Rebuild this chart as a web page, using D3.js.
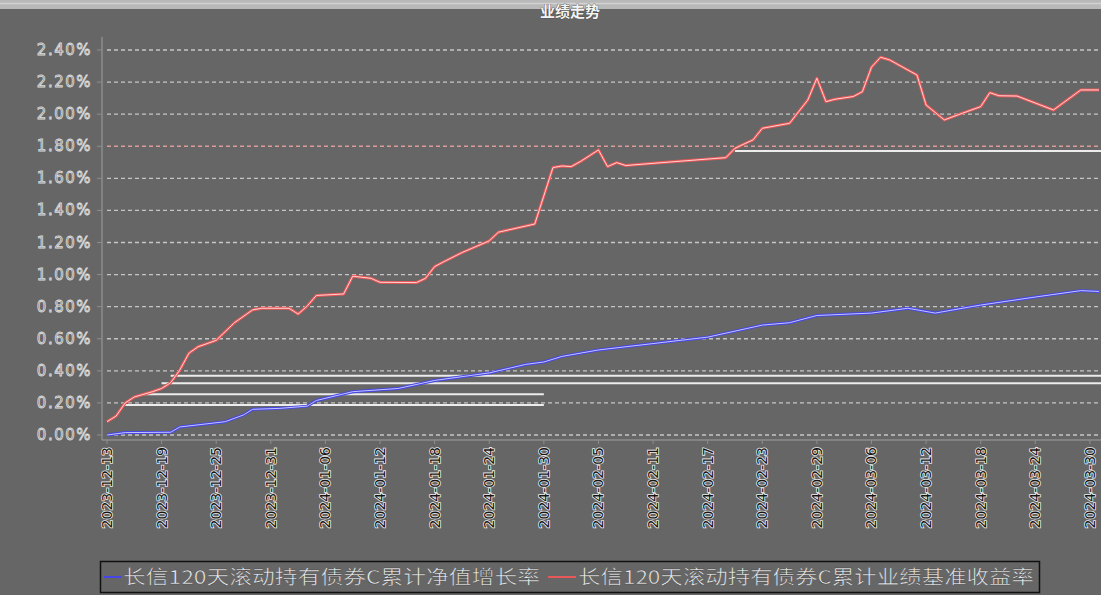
<!DOCTYPE html>
<html>
<head>
<meta charset="utf-8">
<script src="https://cdn.jsdelivr.net/npm/d3@7"></script>
<style>
  body { margin: 0; background: #666; }
  svg { display: block; }
</style>
</head>
<body>
<svg id="chart" width="1101" height="595"></svg>
<script>
const TITLE = '业绩走势';
const SERIES_NAMES = [
  '长信120天滚动持有债券C累计净值增长率',
  '长信120天滚动持有债券C累计业绩基准收益率',
];

// 累计净值增长率 (%)
const NAV_DATES = [
  '2023-12-13', '2023-12-15', '2023-12-20', '2023-12-21', '2023-12-26', '2023-12-28',
  '2023-12-29', '2024-01-01', '2024-01-04', '2024-01-05', '2024-01-09', '2024-01-14',
  '2024-01-18', '2024-01-24', '2024-01-28', '2024-01-30', '2024-02-01', '2024-02-05',
  '2024-02-11', '2024-02-17', '2024-02-23', '2024-02-26', '2024-02-29', '2024-03-06',
  '2024-03-10', '2024-03-13', '2024-03-18', '2024-03-24', '2024-03-29', '2024-03-31',
];
const NAV_VALUES = [
  0.00, 0.015, 0.017, 0.05, 0.083, 0.125,
  0.16, 0.166, 0.18, 0.215, 0.27, 0.29,
  0.34, 0.387, 0.44, 0.455, 0.49, 0.53,
  0.57, 0.61, 0.685, 0.70, 0.745, 0.76,
  0.79, 0.76, 0.81, 0.86, 0.90, 0.895,
];

// 累计业绩基准收益率 (%)
const BENCH_DATES = [
  '2023-12-13', '2023-12-14', '2023-12-15', '2023-12-16', '2023-12-18', '2023-12-19',
  '2023-12-20', '2023-12-21', '2023-12-22', '2023-12-23', '2023-12-25', '2023-12-27',
  '2023-12-29', '2023-12-30', '2024-01-02', '2024-01-03', '2024-01-04', '2024-01-05',
  '2024-01-08', '2024-01-09', '2024-01-10', '2024-01-11', '2024-01-12', '2024-01-16',
  '2024-01-17', '2024-01-18', '2024-01-19', '2024-01-21', '2024-01-24', '2024-01-25',
  '2024-01-29', '2024-01-31', '2024-02-01', '2024-02-02', '2024-02-03', '2024-02-05',
  '2024-02-06', '2024-02-07', '2024-02-08', '2024-02-12', '2024-02-19', '2024-02-20',
  '2024-02-21', '2024-02-22', '2024-02-23', '2024-02-26', '2024-02-27', '2024-02-28',
  '2024-02-29', '2024-03-01', '2024-03-02', '2024-03-04', '2024-03-05', '2024-03-06',
  '2024-03-07', '2024-03-08', '2024-03-11', '2024-03-12', '2024-03-14', '2024-03-16',
  '2024-03-18', '2024-03-19', '2024-03-20', '2024-03-22', '2024-03-26', '2024-03-29',
  '2024-03-31',
];
const BENCH_VALUES = [
  0.083, 0.118, 0.20, 0.237, 0.27, 0.29,
  0.326, 0.405, 0.51, 0.55, 0.59, 0.70,
  0.78, 0.79, 0.79, 0.754, 0.804, 0.87,
  0.879, 0.99, 0.983, 0.977, 0.952, 0.95,
  0.977, 1.05, 1.08, 1.137, 1.21, 1.264,
  1.315, 1.667, 1.677, 1.673, 1.704, 1.777,
  1.673, 1.698, 1.68, 1.698, 1.729, 1.787,
  1.814, 1.84, 1.912, 1.943, 2.016, 2.088,
  2.224, 2.078, 2.093, 2.11, 2.14, 2.293,
  2.355, 2.338, 2.244, 2.057, 1.964, 2.006,
  2.047, 2.134, 2.115, 2.113, 2.026, 2.151,
  2.151,
];

// leftover horizontal strokes seen in the picture (value %, from, to)
const GHOST_VALUES = [0.37, 0.322, 0.254, 0.187, 1.771];
const GHOST_FROM = ['2023-12-20', '2023-12-19', '2023-12-17', '2023-12-15', '2024-02-20'];
const GHOST_TO = ['2024-04-02', '2024-04-02', '2024-01-30', '2024-01-30', '2024-04-02'];

const Y_TICKS = [0, 0.2, 0.4, 0.6, 0.8, 1.0, 1.2, 1.4, 1.6, 1.8, 2.0, 2.2, 2.4];
const X_TICKS = [
  '2023-12-13', '2023-12-19', '2023-12-25', '2023-12-31', '2024-01-06', '2024-01-12',
  '2024-01-18', '2024-01-24', '2024-01-30', '2024-02-05', '2024-02-11', '2024-02-17',
  '2024-02-23', '2024-02-29', '2024-03-06', '2024-03-12', '2024-03-18', '2024-03-24',
  '2024-03-30',
];

const BLUE = '#4646e6';
const RED = '#e85858';
const BG = '#666666';
const CN = '"Noto Sans CJK SC", "Noto Sans", sans-serif';

const W = 1101;
const H = 595;
const parse = d3.timeParse('%Y-%m-%d');

const svg = d3.select('#chart');
svg.append('rect').attr('width', W).attr('height', H).attr('fill', BG);

// light strip at the very top
svg.append('rect').attr('x', 0).attr('y', 0).attr('width', W).attr('height', 9).attr('fill', '#b9b9b9');
svg.append('line').attr('x1', 0).attr('x2', W).attr('y1', 3.5).attr('y2', 3.5).attr('stroke', '#d2d2d2').attr('stroke-width', 1.5);

svg.append('text')
  .attr('x', 570)
  .attr('y', 17)
  .attr('text-anchor', 'middle')
  .attr('font-family', CN)
  .attr('font-size', 15)
  .attr('font-weight', 700)
  .attr('fill', '#f4f4f4')
  .attr('stroke', '#333')
  .attr('stroke-width', 0.6)
  .attr('paint-order', 'stroke')
  .text(TITLE);

const x = d3.scaleTime()
  .domain([parse('2023-12-13'), parse('2024-03-31')])
  .range([107, 1099]);
const y = d3.scaleLinear().domain([0, 2.4]).range([435, 50]);

const plotLeft = 102;
const plotBottom = 440;

// grid
svg.append('g')
  .selectAll('line')
  .data(Y_TICKS)
  .join('line')
  .attr('x1', 107)
  .attr('x2', W)
  .attr('y1', d => y(d))
  .attr('y2', d => y(d))
  .attr('stroke', d => (Math.abs(d - 1.8) < 1e-6 ? '#dc9a9a' : '#c6c6c6'))
  .attr('stroke-width', 1.3)
  .attr('stroke-dasharray', '4,3');

// axes
svg.append('line')
  .attr('x1', plotLeft).attr('x2', plotLeft)
  .attr('y1', 37).attr('y2', plotBottom)
  .attr('stroke', '#8e8e8e').attr('stroke-width', 1.5);
svg.append('line')
  .attr('x1', plotLeft).attr('x2', W)
  .attr('y1', plotBottom).attr('y2', plotBottom)
  .attr('stroke', '#8e8e8e').attr('stroke-width', 1.5);

const yAxis = svg.append('g');
yAxis.selectAll('line')
  .data(Y_TICKS)
  .join('line')
  .attr('x1', plotLeft - 5).attr('x2', plotLeft)
  .attr('y1', d => y(d)).attr('y2', d => y(d))
  .attr('stroke', '#8e8e8e');
yAxis.selectAll('text')
  .data(Y_TICKS)
  .join('text')
  .attr('x', 92)
  .attr('y', d => y(d) + 5)
  .attr('text-anchor', 'end')
  .attr('font-family', 'DejaVu Sans, sans-serif')
  .attr('font-size', 15)
  .attr('letter-spacing', 1.5)
  .attr('fill', '#707070')
  .attr('stroke', '#dedede')
  .attr('stroke-width', 0.8)
  .text(d => `${d.toFixed(2)}%`);

const xTicks = X_TICKS.map(parse);
const xAxis = svg.append('g');
xAxis.selectAll('line')
  .data(xTicks)
  .join('line')
  .attr('x1', d => x(d)).attr('x2', d => x(d))
  .attr('y1', plotBottom).attr('y2', plotBottom + 4)
  .attr('stroke', '#8e8e8e');
xAxis.selectAll('text')
  .data(X_TICKS)
  .join('text')
  .attr('transform', d => `translate(${x(parse(d)) + 5},447) rotate(-90)`)
  .attr('text-anchor', 'end')
  .attr('font-family', 'DejaVu Sans, sans-serif')
  .attr('font-size', 14)
  .attr('fill', '#151515')
  .attr('stroke', '#eeeeee')
  .attr('stroke-width', 1.6)
  .attr('paint-order', 'stroke')
  .text(d => d);

// stray white strokes
svg.append('g')
  .selectAll('line')
  .data(GHOST_VALUES)
  .join('line')
  .attr('x1', (d, i) => x(parse(GHOST_FROM[i])))
  .attr('x2', (d, i) => x(parse(GHOST_TO[i])))
  .attr('y1', d => y(d))
  .attr('y2', d => y(d))
  .attr('stroke', '#ececec')
  .attr('stroke-width', 2);

const line = d3.line()
  .x(d => x(d.date))
  .y(d => y(d.value));

const navRows = NAV_DATES.map((d, i) => ({ date: parse(d), value: NAV_VALUES[i] }));
const benchRows = BENCH_DATES.map((d, i) => ({ date: parse(d), value: BENCH_VALUES[i] }));

function drawSeries(rows, outer, inner) {
  svg.append('path')
    .datum(rows)
    .attr('fill', 'none')
    .attr('stroke', outer)
    .attr('stroke-width', 3)
    .attr('stroke-linejoin', 'round')
    .attr('d', line);
  svg.append('path')
    .datum(rows)
    .attr('fill', 'none')
    .attr('stroke', inner)
    .attr('stroke-width', 1)
    .attr('stroke-linejoin', 'round')
    .attr('d', line);
}

drawSeries(navRows, BLUE, '#c4c4ff');
drawSeries(benchRows, RED, '#ffd2d2');

// legend
const legend = svg.append('g');
legend.append('rect')
  .attr('x', 100.5).attr('y', 561.5)
  .attr('width', 939).attr('height', 31)
  .attr('fill', 'none')
  .attr('stroke', '#111')
  .attr('stroke-width', 1.5);

const legendItems = [
  { name: SERIES_NAMES[0], color: BLUE, x0: 104, x1: 121, tx: 123, tw: 417 },
  { name: SERIES_NAMES[1], color: RED, x0: 548, x1: 576, tx: 578, tw: 456 },
];
legendItems.forEach(item => {
  legend.append('line')
    .attr('x1', item.x0).attr('x2', item.x1)
    .attr('y1', 577).attr('y2', 577)
    .attr('stroke', item.color)
    .attr('stroke-width', 2);
  legend.append('text')
    .attr('x', item.tx)
    .attr('y', 584)
    .attr('font-family', CN)
    .attr('font-size', 19)
    .attr('textLength', item.tw)
    .attr('lengthAdjust', 'spacingAndGlyphs')
    .attr('fill', '#e8e8e8')
    .attr('stroke', '#444')
    .attr('stroke-width', 0.4)
    .text(item.name);
});
</script>
</body>
</html>
